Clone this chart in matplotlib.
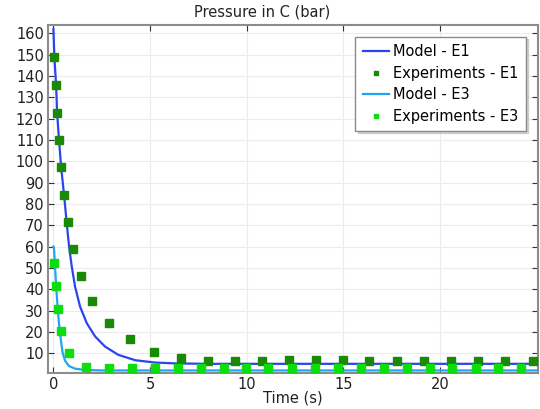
import numpy as np
import matplotlib
matplotlib.use('Agg')
import matplotlib.pyplot as plt

# model curves
t_model_e1 = [0, 0.05, 0.14, 0.19, 0.29, 0.40, 0.55, 0.69, 0.81, 0.95, 1.12, 1.38, 1.73,
              2.16, 2.67, 3.36, 4.23, 5.26, 6.3, 8.0, 25.1]
p_model_e1 = [162, 148.7, 135.8, 122.8, 110.0, 97.2, 84.3, 70.9, 60.0, 50.6, 41.2, 31.8, 24.0,
              17.8, 13.1, 9.2, 6.7, 5.6, 5.2, 5.0, 5.0]

t_model_e3 = [0, 0.03, 0.07, 0.14, 0.23, 0.33, 0.47, 0.6, 0.8, 1.1, 1.6, 2.5, 25.1]
p_model_e3 = [60, 59, 53, 41.5, 30, 20, 10.5, 6.5, 4.0, 2.8, 2.1, 1.9, 1.9]

# experiments
t_exp_e1 = [0.05, 0.14, 0.19, 0.29, 0.40, 0.55, 0.74, 1.03, 1.42, 2.02, 2.86, 3.98, 5.22,
            6.60, 8.00, 9.42, 10.80, 12.19, 13.57, 14.97, 16.35, 17.76, 19.16, 20.57,
            21.97, 23.37, 24.80]
p_exp_e1 = [148.7, 135.8, 122.8, 110.0, 97.2, 84.3, 71.4, 58.7, 46.2, 34.6, 24.3, 16.7, 10.6,
            7.6, 6.5, 6.2, 6.2, 6.6, 6.6, 6.6, 6.5, 6.5, 6.5, 6.5, 6.4, 6.5, 6.5]

t_exp_e3 = [0.05, 0.14, 0.23, 0.41, 0.81, 1.69, 2.88, 4.07, 5.26, 6.43, 7.62, 8.81, 9.98,
            11.12, 12.36, 13.54, 14.73, 15.92, 17.09, 18.28, 19.47, 20.64, 21.85, 23.02, 24.20]
p_exp_e3 = [52.3, 41.5, 30.8, 20.3, 10.1, 3.5, 2.9, 2.9, 2.9, 2.9, 2.9, 2.9, 2.9,
            2.9, 2.9, 2.9, 2.9, 2.9, 2.9, 2.9, 2.9, 2.9, 2.9, 2.9, 2.9]

x_ticks = [0, 5, 10, 15, 20]
y_ticks = list(range(10, 161, 10))

fig = plt.figure(figsize=(5.4, 4.09), dpi=100)
ax = fig.add_axes([48/540, 1 - 373/409, 490/540, 348/409])

ax.plot(t_model_e1, p_model_e1, color='#2a45ef', lw=1.6, label='Model - E1', zorder=3)
ax.plot(t_exp_e1, p_exp_e1, ls='none', marker='s', ms=5.2, color='#1a8a06',
        label='Experiments - E1', zorder=4)
ax.plot(t_model_e3, p_model_e3, color='#1ea6f5', lw=1.6, label='Model - E3', zorder=3)
ax.plot(t_exp_e3, p_exp_e3, ls='none', marker='s', ms=5.2, color='#0ddc0d',
        label='Experiments - E3', zorder=4)

ax.set_xlim(-0.28, 25.07)
ax.set_ylim(0.7, 163.9)
ax.set_xticks(x_ticks)
ax.set_yticks(y_ticks)
ax.grid(True, color='#ececec', lw=0.8)
ax.set_axisbelow(True)
ax.tick_params(direction='in', length=4, width=0.8, color='#333333',
               top=True, right=True, labelsize=10.5, pad=3, labelcolor='#222222')
for s in ax.spines.values():
    s.set_color('#8c8c8c')
    s.set_linewidth(1.5)

ax.set_xlabel('Time (s)', fontsize=10.5, labelpad=-1, color='#222222')
fig.text(262/540, 1 - 12/409, 'Pressure in C (bar)', ha='center', va='center',
         fontsize=10.5, color='#222222')

leg = ax.legend(loc='upper right', bbox_to_anchor=((526 - 48)/490, 1 - 12/348),
                bbox_transform=ax.transAxes, fontsize=10.5,
                markerscale=0.6, handlelength=1.8, handletextpad=0.3,
                fancybox=False, shadow={'ox': 1.5, 'oy': -1.5, 'color': '#b0b0b0'},
                framealpha=1, edgecolor='#8a8a8a',
                borderpad=0.5, borderaxespad=0, labelspacing=0.45)
leg.get_frame().set_linewidth(1.0)

fig.savefig('out.png', dpi=100)
